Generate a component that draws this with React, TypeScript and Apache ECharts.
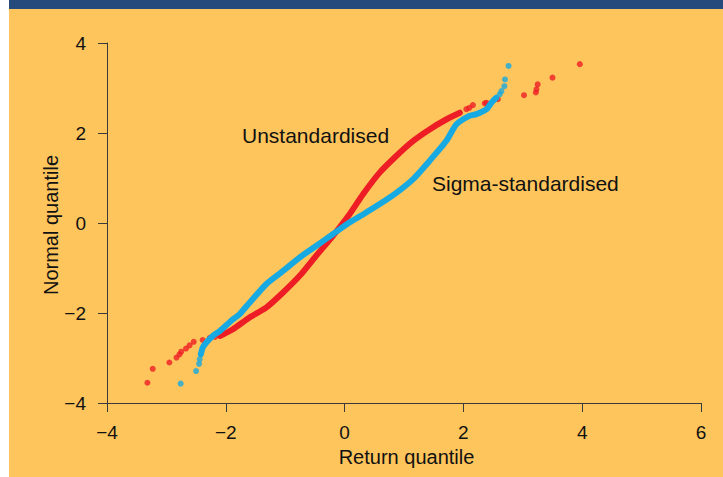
import React, { useEffect, useRef } from "react";
import * as echarts from "echarts";

// Unstandardised (red): dense core and sparse tail points
const redCoreX = [-2.1, -1.88, -1.6, -1.32, -1.04, -0.76, -0.48, -0.2, 0.08, 0.31, 0.59, 0.87, 1.15, 1.43, 1.71, 1.94];
const redCoreY = [-2.51, -2.36, -2.1, -1.88, -1.55, -1.18, -0.73, -0.29, 0.19, 0.64, 1.12, 1.49, 1.82, 2.08, 2.3, 2.45];
const redTailX = [-3.32, -3.23, -2.95, -2.83, -2.78, -2.75, -2.67, -2.61, -2.54, -2.39, -2.27, -2.18, 2.05, 2.1, 2.16, 2.36, 2.39, 2.58, 3.02, 3.22, 3.23, 3.25, 3.5, 3.96];
const redTailY = [-3.55, -3.24, -3.1, -2.99, -2.92, -2.86, -2.79, -2.72, -2.64, -2.6, -2.55, -2.53, 2.53, 2.56, 2.62, 2.66, 2.67, 2.75, 2.84, 2.9, 2.97, 3.08, 3.23, 3.53];

// Sigma-standardised (blue)
const blueCoreX = [-2.42, -2.39, -2.33, -2.22, -2.1, -1.88, -1.77, -1.6, -1.32, -1.04, -0.76, -0.48, -0.2, 0.08, 0.31, 0.59, 0.87, 1.15, 1.43, 1.71, 1.88, 2.1, 2.22, 2.39, 2.47, 2.55];
const blueCoreY = [-2.92, -2.77, -2.66, -2.51, -2.4, -2.14, -2.03, -1.77, -1.36, -1.07, -0.77, -0.51, -0.25, 0.01, 0.19, 0.42, 0.67, 0.97, 1.38, 1.82, 2.19, 2.38, 2.42, 2.53, 2.67, 2.78];
const blueTailX = [-2.76, -2.5, -2.45, -2.44, 2.61, 2.64, 2.69, 2.7, 2.76];
const blueTailY = [-3.57, -3.29, -3.13, -3.03, 2.86, 2.93, 3.04, 3.19, 3.49];

const xTicks = { min: -4, max: 6, interval: 2 };
const yTicks = { min: -4, max: 4, interval: 2 };

const RED = "#EE1D25";
const BLUE = "#17A9E1";
const FONT = "'Liberation Sans', Arial, Helvetica, sans-serif";

const zip = (xs: number[], ys: number[]) => xs.map((x, i) => [x, ys[i]]);
const fmt = (v: number) => (v < 0 ? "\u2212" + Math.abs(v) : String(v));

export default function App() {
  const ref = useRef<HTMLDivElement>(null);
  useEffect(() => {
    if (!ref.current) return;
    const chart = echarts.init(ref.current, undefined, { renderer: "svg" });
    const axisCommon = {
      type: "value" as const,
      splitLine: { show: false },
      axisLine: { show: true, onZero: false, lineStyle: { color: "#3a3a3a", width: 1 } },
      axisTick: { show: true, inside: false, length: 9, lineStyle: { color: "#3a3a3a" } },
    };
    chart.setOption({
      animation: false,
      backgroundColor: "transparent",
      grid: { left: 98, right: 22, top: 43, bottom: 74 },
      xAxis: {
        ...axisCommon,
        ...xTicks,
        axisLabel: { color: "#111", fontSize: 19, fontFamily: FONT, margin: 20, formatter: fmt },
      },
      yAxis: {
        ...axisCommon,
        ...yTicks,
        axisLabel: { color: "#111", fontSize: 19, fontFamily: FONT, margin: 21, formatter: fmt },
      },
      graphic: [
        { type: "rect", shape: { x: 0, y: 0, width: 714, height: 9 }, style: { fill: "#264A7B" }, silent: true },
        {
          type: "text", x: 233, y: 135,
          style: { text: "Unstandardised", fill: "#111", fontSize: 21, fontFamily: FONT, align: "left", verticalAlign: "middle" },
        },
        {
          type: "text", x: 423, y: 183,
          style: { text: "Sigma-standardised", fill: "#111", fontSize: 21, fontFamily: FONT, align: "left", verticalAlign: "middle" },
        },
        {
          type: "text", x: 397.5, y: 457,
          style: { text: "Return quantile", fill: "#111", fontSize: 20, fontFamily: FONT, align: "center", verticalAlign: "middle" },
        },
        {
          type: "text", x: 41.5, y: 225, rotation: Math.PI / 2,
          style: { text: "Normal quantile", fill: "#111", fontSize: 20, fontFamily: FONT, align: "center", verticalAlign: "middle" },
        },
      ],
      series: [
        {
          type: "line", data: zip(redCoreX, redCoreY), showSymbol: false, smooth: 0.2,
          lineStyle: { color: RED, width: 6, cap: "round", join: "round" }, z: 2,
        },
        {
          type: "scatter", data: zip(redTailX, redTailY), symbolSize: 6,
          itemStyle: { color: RED }, z: 2,
        },
        {
          type: "line", data: zip(blueCoreX, blueCoreY), showSymbol: false, smooth: 0.2,
          lineStyle: { color: BLUE, width: 6, cap: "round", join: "round" }, z: 3,
        },
        {
          type: "scatter", data: zip(blueTailX, blueTailY), symbolSize: 6,
          itemStyle: { color: BLUE }, z: 3,
        },
      ],
    });
    return () => chart.dispose();
  }, []);
  return (
    <div style={{ position: "absolute", left: 0, top: 0, width: 723, height: 477, background: "#fff" }}>
      <div
        ref={ref}
        style={{ position: "absolute", left: 9, top: 0, width: 714, height: 477, background: "#FEC55D" }}
      />
    </div>
  );
}
